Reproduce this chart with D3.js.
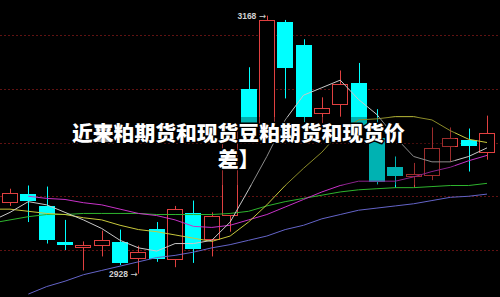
<!DOCTYPE html>
<html lang="zh">
<head>
<meta charset="UTF-8">
<title>豆粕期货</title>
<style>
  html, body { margin: 0; padding: 0; background: #000; }
</style>
</head>
<body>
<svg id="svg" width="500" height="297"></svg>
<script src="https://d3js.org/d3.v7.min.js"></script>
<script>
// daily candles, price units
const opens  = [2995, 3002, 2991, 2957, 2953, 2955, 2957, 2943, 2970, 2942, 2984, 2960, 2983, 3100, 3058, 3162, 3141, 3077, 3086, 3105, 3054, 3027, 3019, 3020, 3047, 3052, 3041]
const highs  = [3007, 3010, 3009, 2978, 2958, 2968, 2969, 2954, 2976, 2991, 2996, 2985, 3066, 3120, 3168, 3164, 3146, 3092, 3117, 3124, 3081, 3037, 3031, 3064, 3064, 3063, 3075]
const lows   = [2991, 2976, 2956, 2950, 2931, 2944, 2936, 2928, 2939, 2934, 2938, 2944, 2967, 3057, 3052, 3091, 3069, 3068, 3074, 3058, 3011, 3008, 3008, 3015, 3032, 3023, 3034]
const closes = [3003, 2996, 2959, 2955, 2955, 2959, 2938, 2948, 2942, 2988, 2951, 2982, 3063, 3062, 3164, 3119, 3074, 3082, 3104, 3064, 3013, 3019, 3021, 3045, 3054, 3047, 3059]

// moving averages, first value is the day before the first candle
const ma5  = [2977, 2985, 2995, 2992, 2985, 2978, 2970, 2959, 2952, 2949, 2956, 2956, 2959, 2976, 3006, 3037, 3071, 3094, 3101, 3108, 3090, 3076, 3055, 3037, 3032, 3032, 3037, 3045]
const ma10 = [2988, 2988, 2986, 2984, 2983, 2980, 2978, 2973, 2969, 2967, 2964, 2961, 2958, 2963, 2976, 2992, 3010, 3026, 3041, 3060, 3071, 3072, 3074, 3074, 3071, 3061, 3053, 3050]
const ma20 = [null, null, 3000, 2998, 2997, 2994, 2992, 2988, 2984, 2982, 2978, 2972, 2971, 2973, 2978, 2983, 2990, 2997, 3004, 3010, 3014, 3014, 3014, 3018, 3023, 3027, 3033, 3038]
const ma30 = [2975, 2978, 2981, 2983, 2983, 2984, 2984, 2984, 2984, 2983, 2983, 2983, 2983, 2984, 2986, 2991, 2995, 2998, 3001, 3004, 3006, 3007, 3008, 3008, 3009, 3010, 3010, 3012]
const ma60 = [null, null, 2909, 2916, 2921, 2927, 2931, 2935, 2939, 2943, 2945, 2948, 2952, 2955, 2959, 2963, 2969, 2973, 2979, 2983, 2987, 2989, 2991, 2993, 2996, 2999, 3000, 3002]

const gridPrices = [2950, 3000, 3050, 3100, 3150]
const titleLine1 = '近来粕期货和现货豆粕期货和现货价'
const titleOver = '豆'
const titleLine2 = '差】'

const svg = d3.select('#svg')
const W = 500, H = 297

// scales
const x = d3.scaleLinear().domain([0, opens.length - 1]).range([10, 487])
const y = d3.scaleLinear().domain([2950, 3150]).range([250, 35])
const bodyW = 16

svg.append('rect').attr('width', W).attr('height', H).attr('fill', '#000')

// gridlines
svg.append('g')
  .selectAll('line')
  .data(gridPrices)
  .enter()
  .append('line')
  .attr('x1', 0)
  .attr('x2', W)
  .attr('y1', d => Math.round(y(d)) + 0.5)
  .attr('y2', d => Math.round(y(d)) + 0.5)
  .attr('stroke', '#601212')
  .attr('stroke-dasharray', '2,2')

// candles
const candles = opens.map((o, i) => ({ i, o, h: highs[i], l: lows[i], c: closes[i], up: closes[i] >= o }))
const red = '#e04040'
const cyan = '#00ffff'

const cg = svg.append('g')
cg.selectAll('line')
  .data(candles)
  .enter()
  .append('line')
  .attr('x1', d => Math.round(x(d.i)) + 0.5)
  .attr('x2', d => Math.round(x(d.i)) + 0.5)
  .attr('y1', d => y(d.h))
  .attr('y2', d => y(d.l))
  .attr('stroke', d => d.up ? red : cyan)

cg.selectAll('rect')
  .data(candles)
  .enter()
  .append('rect')
  .attr('x', d => d.up ? Math.round(x(d.i)) - 7.5 : Math.round(x(d.i)) - 8)
  .attr('y', d => d.up ? Math.round(y(d.c)) + 0.5 : Math.round(y(d.o)))
  .attr('width', d => d.up ? bodyW - 1 : bodyW)
  .attr('height', d => Math.max(1, Math.abs(Math.round(y(d.o)) - Math.round(y(d.c)))))
  .attr('fill', d => d.up ? '#000' : cyan)
  .attr('stroke', d => d.up ? red : 'none')

// moving average lines
const maSeries = [
  { values: ma60, color: '#6464c8' },
  { values: ma30, color: '#2eb42e' },
  { values: ma20, color: '#c832c8' },
  { values: ma10, color: '#c8c83c' },
  { values: ma5, color: '#c8c8c8' }
]
const lineGen = d3.line()
  .defined(d => d.v !== null)
  .x(d => x(d.i))
  .y(d => y(d.v))

svg.append('g')
  .selectAll('path')
  .data(maSeries)
  .enter()
  .append('path')
  .attr('d', s => lineGen(s.values.map((v, k) => ({ i: k - 1, v }))))
  .attr('fill', 'none')
  .attr('stroke', s => s.color)
  .attr('stroke-width', 1)

// max / min labels
const hiIdx = d3.maxIndex(highs)
const loIdx = d3.minIndex(lows)
const markLabel = (i, v) => {
  const t = svg.append('text')
    .attr('x', x(i) - 1)
    .attr('y', y(v) + 3)
    .attr('text-anchor', 'end')
    .style('font-family', '"Liberation Sans", Arial, sans-serif')
    .style('font-size', '8.5px')
    .style('font-weight', 'bold')
    .attr('fill', '#d0d0d0')
  t.append('tspan').text(v + ' ')
  t.append('tspan').style('font-family', '"DejaVu Sans", sans-serif').style('font-weight', 'normal').text('→')
}
markLabel(hiIdx, highs[hiIdx])
markLabel(loIdx, lows[loIdx])

// dark band behind the title
svg.append('rect')
  .attr('x', 55)
  .attr('y', 117)
  .attr('width', 400)
  .attr('height', 68)
  .attr('fill', '#000')
  .attr('opacity', 0.3)

// title, white with black outline
const titleStyle = sel => sel
  .style('font-family', '"Noto Sans CJK SC", sans-serif')
  .style('font-size', '20.8px')
  .style('font-weight', 900)
  .attr('fill', '#fff')
  .attr('stroke', '#000')
  .attr('stroke-width', 3)
  .attr('paint-order', 'stroke')
  .attr('stroke-linejoin', 'round')

svg.append('text').attr('x', 72).attr('y', 141).call(titleStyle).text(titleLine1)
// second glyph is printed twice in the source picture
svg.append('text').attr('x', 92.8).attr('y', 141)
  .style('font-family', '"Noto Sans CJK SC", sans-serif')
  .style('font-size', '20.8px')
  .style('font-weight', 900)
  .attr('fill', '#fff')
  .attr('opacity', 0.55)
  .text(titleOver)
svg.append('text').attr('x', 238.5).attr('y', 167).attr('text-anchor', 'middle').call(titleStyle).text(titleLine2)
</script>
</body>
</html>
